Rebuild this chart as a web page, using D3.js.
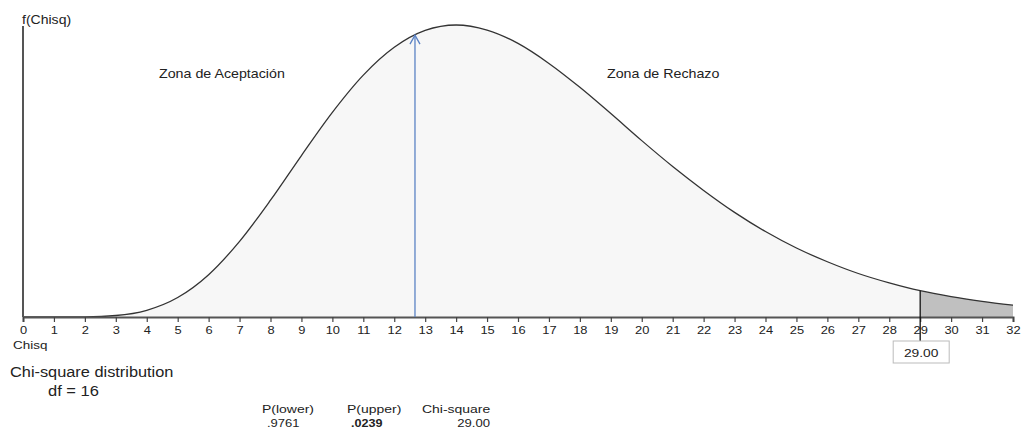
<!DOCTYPE html>
<html>
<head>
<meta charset="utf-8">
<script src="https://cdn.jsdelivr.net/npm/d3@7"></script>
<style>
  body { margin: 0; background: #fff; }
  svg { font-family: "Liberation Sans", Arial, sans-serif; }
</style>
</head>
<body>
<svg id="chart" width="1024" height="430"></svg>
<script>
// density, one value per integer of Chisq (df = 16)
var chisq = [0, 1, 2, 3, 4, 5, 6, 7, 8, 9, 10, 11, 12, 13, 14, 15, 16,
             17, 18, 19, 20, 21, 22, 23, 24, 25, 26, 27, 28, 29, 30, 31, 32];
var density = [0, 0.0000005, 0.0000365, 0.00038, 0.00172, 0.00497, 0.0108, 0.0193,
               0.0298, 0.0412, 0.0522, 0.0617, 0.0688, 0.0731, 0.0745, 0.0732, 0.0698,
               0.0647, 0.0586, 0.0519, 0.0450, 0.0384, 0.0323, 0.0267, 0.0218, 0.0176,
               0.0141, 0.0111, 0.0087, 0.0067, 0.0052, 0.0040, 0.0030];
var tickLabels = d3.range(0, 33);
var critical = 29;          // rejection boundary
var arrowAt = 12.67;        // blue arrow position
var arrowValue = 0.0719;
var probLabels = ["P(lower)", "P(upper)", "Chi-square"];
var probValues = [".9761", ".0239", "29.00"];

var svg = d3.select("#chart");

var x = d3.scaleLinear().domain([0, 32]).range([23, 1013]);
var y = d3.scaleLinear().domain([0, 0.0745]).range([317, 25]);

var pts = chisq.map(function (c, i) { return { c: c, f: density[i] }; });

// lower area (acceptance) and upper tail (rejection)
var area = d3.area()
    .x(function (d) { return x(d.c); })
    .y0(y(0))
    .y1(function (d) { return y(d.f); })
    .curve(d3.curveMonotoneX);

svg.append("path")
    .datum(pts.filter(function (d) { return d.c <= critical; }))
    .attr("d", area)
    .attr("fill", "#f7f7f7");

svg.append("path")
    .datum(pts.filter(function (d) { return d.c >= critical; }))
    .attr("d", area)
    .attr("fill", "#c0c0c0");

svg.append("path")
    .datum(pts)
    .attr("d", d3.line()
        .x(function (d) { return x(d.c); })
        .y(function (d) { return y(d.f); })
        .curve(d3.curveMonotoneX))
    .attr("fill", "none")
    .attr("stroke", "#333")
    .attr("stroke-width", 1.3);

// axes
var xAxis = svg.append("g")
    .attr("transform", "translate(0," + y(0) + ")")
    .call(d3.axisBottom(x).tickValues(tickLabels).tickSize(5).tickPadding(4).tickFormat(d3.format("d")));
xAxis.select(".domain").attr("stroke", "#555").attr("stroke-width", 2);
xAxis.selectAll(".tick line").attr("stroke", "#444").attr("stroke-width", 1.2);
xAxis.selectAll(".tick text").attr("font-size", 11.5).attr("fill", "#222")
    .attr("font-family", "Liberation Sans, Arial, sans-serif")
    .attr("transform", "scale(1.12,1)");

svg.append("line")
    .attr("x1", x(0)).attr("x2", x(0))
    .attr("y1", 26).attr("y2", y(0))
    .attr("stroke", "#555").attr("stroke-width", 2);

// critical value marker
svg.append("line")
    .attr("x1", x(critical)).attr("x2", x(critical))
    .attr("y1", y(density[critical])).attr("y2", 341)
    .attr("stroke", "#111").attr("stroke-width", 1.3);

svg.append("rect")
    .attr("x", x(critical) - 27).attr("y", 341)
    .attr("width", 56).attr("height", 22)
    .attr("fill", "#fff").attr("stroke", "#bbb");

// blue arrow
var ax = x(arrowAt), ay = y(arrowValue);
svg.append("line")
    .attr("x1", ax).attr("x2", ax)
    .attr("y1", y(0)).attr("y2", ay)
    .attr("stroke", "#5a82c4").attr("stroke-width", 1.3);
svg.append("path")
    .attr("d", "M" + (ax - 5) + "," + (ay + 9) + "L" + ax + "," + ay + "L" + (ax + 5) + "," + (ay + 9))
    .attr("fill", "none")
    .attr("stroke", "#5a82c4").attr("stroke-width", 1.3);

// labels (the reference text is a bit wider than Arial, so stretch it)
function label(tx, ty, s, size, sx, anchor, bold) {
    return svg.append("text")
        .attr("transform", "translate(" + tx + "," + ty + ") scale(" + sx + ",1)")
        .attr("font-size", size).attr("fill", "#222")
        .attr("text-anchor", anchor || "start")
        .attr("font-weight", bold ? "bold" : "normal")
        .text(s);
}

label(x(critical) + 1, 357, critical.toFixed(2), 11.5, 1.2, "middle");

label(22, 24, "f(Chisq)", 12, 1.17);
label(159, 78, "Zona de Aceptación", 12.5, 1.14);
label(607, 78, "Zona de Rechazo", 12.5, 1.14);
label(13, 349, "Chisq", 11.5, 1.17);
label(10, 377, "Chi-square distribution", 15, 1.09);
label(48, 396, "df = 16", 15, 1.1);

var probX = [262, 347, 422];
probLabels.forEach(function (s, i) {
    label(probX[i], 413, s, 11, 1.27);
});
label(267, 427, probValues[0], 10.5, 1.24);
label(351, 427, probValues[1], 10.5, 1.2, "start", true);
label(490, 427, probValues[2], 10.5, 1.25, "end");
</script>
</body>
</html>
